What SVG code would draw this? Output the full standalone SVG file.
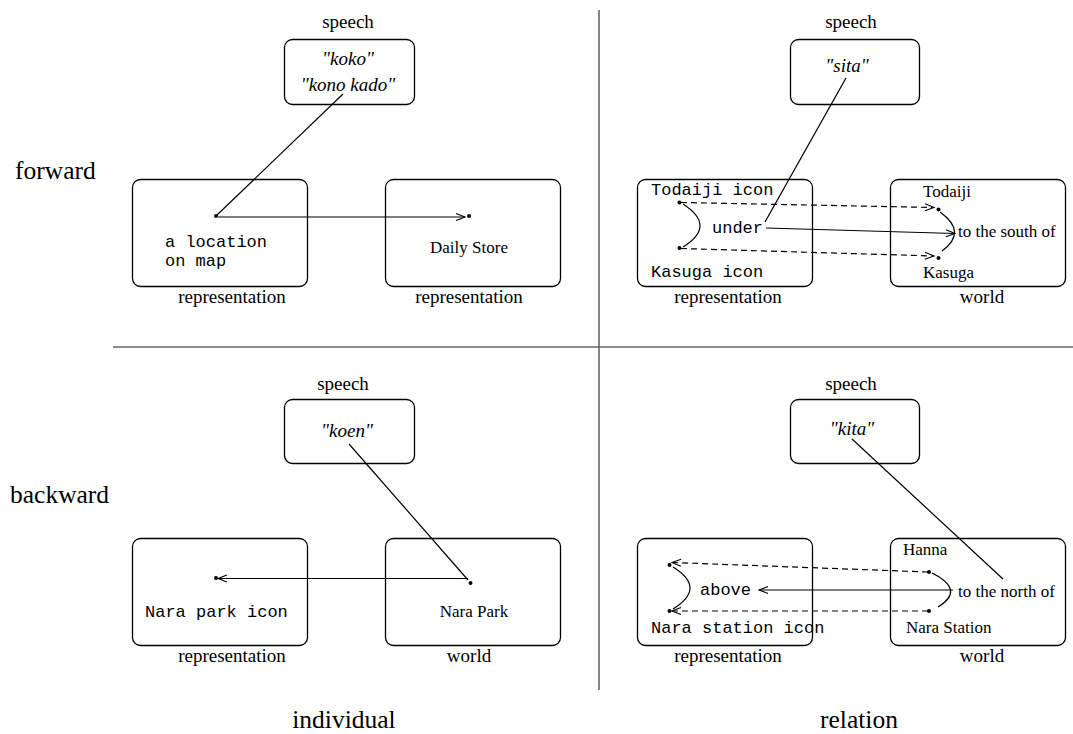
<svg xmlns="http://www.w3.org/2000/svg" width="1073" height="734" viewBox="0 0 1073 734">
<defs>
<marker id="ah" markerUnits="userSpaceOnUse" markerWidth="12" markerHeight="10" viewBox="0 0 12 10" refX="10" refY="5" orient="auto">
<path d="M1,1.5 L10,5 L1,8.5" fill="none" stroke="#000" stroke-width="1.1"/>
</marker>
<style>
.box{fill:none;stroke:#000;stroke-width:1.3}
.lbl{font-family:"Liberation Serif",serif;font-size:19px;fill:#000;text-anchor:middle}
.big{font-family:"Liberation Serif",serif;font-size:25.5px;fill:#000}
.sp{font-family:"Liberation Serif",serif;font-style:italic;font-size:19px;fill:#000;text-anchor:middle}
.ser{font-family:"Liberation Serif",serif;font-size:17px;fill:#000}
.mono{font-family:"Liberation Mono",monospace;font-size:17px;fill:#000}
.ln{fill:none;stroke:#000;stroke-width:1.2}
.arr{fill:none;stroke:#000;stroke-width:1.2;marker-end:url(#ah)}
.dash{fill:none;stroke:#000;stroke-width:1.2;stroke-dasharray:6,4;marker-end:url(#ah)}
.div{stroke:#666;stroke-width:1.6}
</style>
</defs>
<rect width="1073" height="734" fill="#fff"/>
<g id="dividers">
<line class="div" x1="599" y1="10" x2="599" y2="690"/>
<line class="div" x1="113" y1="347" x2="1073" y2="347"/>
</g>
<g id="axis-labels">
<text class="big" x="15" y="179">forward</text>
<text class="big" x="10" y="503">backward</text>
<text class="big" x="344" y="728" text-anchor="middle">individual</text>
<text class="big" x="859" y="728" text-anchor="middle">relation</text>
</g>
<!-- Top-left -->
<g id="tl-speech">
<text class="lbl" x="348" y="28">speech</text>
<rect class="box" x="284.5" y="39.5" width="130" height="65" rx="8"/>
<text class="sp" x="348" y="65">"koko"</text>
<text class="sp" x="348" y="91">"kono kado"</text>
</g>
<g id="tl-rep1">
<rect class="box" x="132.5" y="179.5" width="175" height="107" rx="8"/>
<circle cx="216" cy="216" r="2"/>
<text class="mono" x="165" y="247">a location</text>
<text class="mono" x="165" y="266">on map</text>
<text class="lbl" x="232" y="303">representation</text>
</g>
<g id="tl-rep2">
<rect class="box" x="385.5" y="179.5" width="175" height="107" rx="8"/>
<circle cx="469" cy="216" r="2"/>
<text class="ser" x="469" y="253" text-anchor="middle">Daily Store</text>
<text class="lbl" x="469" y="303">representation</text>
</g>
<!-- Top-right -->
<g id="tr-speech">
<text class="lbl" x="851" y="28">speech</text>
<rect class="box" x="790.5" y="39.5" width="129" height="65" rx="8"/>
<text class="sp" x="847" y="72">"sita"</text>
</g>
<g id="tr-rep">
<rect class="box" x="637.5" y="179.5" width="175" height="107" rx="8"/>
<text class="mono" x="651" y="195">Todaiji icon</text>
<text class="mono" x="651" y="277">Kasuga icon</text>
<circle cx="679.5" cy="202.5" r="2"/>
<circle cx="679.5" cy="248" r="2"/>
<text class="mono" x="712" y="233">under</text>
<text class="lbl" x="728" y="303">representation</text>
</g>
<g id="tr-world">
<rect class="box" x="890.5" y="179.5" width="175" height="107" rx="8"/>
<text class="ser" x="923" y="197">Todaiji</text>
<text class="ser" x="923" y="278">Kasuga</text>
<circle cx="938.5" cy="209.5" r="2"/>
<circle cx="938.5" cy="258" r="2"/>
<text class="ser" x="958" y="237">to the south of</text>
<text class="lbl" x="982" y="303">world</text>
</g>
<!-- Bottom-left -->
<g id="bl-speech">
<text class="lbl" x="343" y="390">speech</text>
<rect class="box" x="284.5" y="399.5" width="130" height="64" rx="8"/>
<text class="sp" x="347" y="437">"koen"</text>
</g>
<g id="bl-rep">
<rect class="box" x="132.5" y="538.5" width="175" height="107" rx="8"/>
<circle cx="216" cy="578" r="2"/>
<text class="mono" x="145" y="617">Nara park icon</text>
<text class="lbl" x="232" y="662">representation</text>
</g>
<g id="bl-world">
<rect class="box" x="385.5" y="538.5" width="175" height="107" rx="8"/>
<circle cx="470.5" cy="583" r="2"/>
<text class="ser" x="474" y="617" text-anchor="middle">Nara Park</text>
<text class="lbl" x="469" y="662">world</text>
</g>
<!-- Bottom-right -->
<g id="br-speech">
<text class="lbl" x="851" y="390">speech</text>
<rect class="box" x="790.5" y="399.5" width="129" height="64" rx="8"/>
<text class="sp" x="852" y="435">"kita"</text>
</g>
<g id="br-rep">
<rect class="box" x="637.5" y="538.5" width="175" height="107" rx="8"/>
<circle cx="669.5" cy="565" r="2"/>
<circle cx="669.5" cy="611" r="2"/>
<text class="mono" x="700" y="595">above</text>
<text class="mono" x="651" y="633">Nara station icon</text>
<text class="lbl" x="728" y="662">representation</text>
</g>
<g id="br-world">
<rect class="box" x="890.5" y="538.5" width="175" height="107" rx="8"/>
<text class="ser" x="903" y="555">Hanna</text>
<text class="ser" x="906" y="633">Nara Station</text>
<circle cx="929" cy="572" r="2"/>
<circle cx="929" cy="611" r="2"/>
<text class="ser" x="958" y="597">to the north of</text>
<text class="lbl" x="982" y="662">world</text>
</g>
<g id="connectors">
<!-- top-left -->
<line class="ln" x1="343" y1="94" x2="217" y2="215"/>
<line class="arr" x1="218" y1="217" x2="465" y2="217"/>
<!-- top-right -->
<line class="ln" x1="846" y1="78" x2="765" y2="222"/>
<path class="ln" d="M683,204 Q717,226 683,247"/>
<path class="ln" d="M940,212 Q968,232 942,251"/>
<line class="arr" x1="766" y1="228" x2="955" y2="233.5"/>
<line class="dash" x1="681" y1="202.5" x2="934" y2="207.5"/>
<line class="dash" x1="681" y1="248.5" x2="934" y2="256"/>
<!-- bottom-left -->
<line class="ln" x1="349" y1="444" x2="468" y2="580"/>
<line class="arr" x1="468" y1="578.5" x2="218" y2="578.5"/>
<!-- bottom-right -->
<line class="ln" x1="852" y1="439" x2="1003" y2="579"/>
<path class="ln" d="M673,567 Q707,588 673,609"/>
<path class="ln" d="M932,573 Q966,590 938,607"/>
<line class="arr" x1="953" y1="590" x2="759" y2="590"/>
<line class="dash" x1="928" y1="572" x2="672" y2="562.5"/>
<line class="dash" x1="928" y1="611" x2="672" y2="611"/>
</g>
</svg>
